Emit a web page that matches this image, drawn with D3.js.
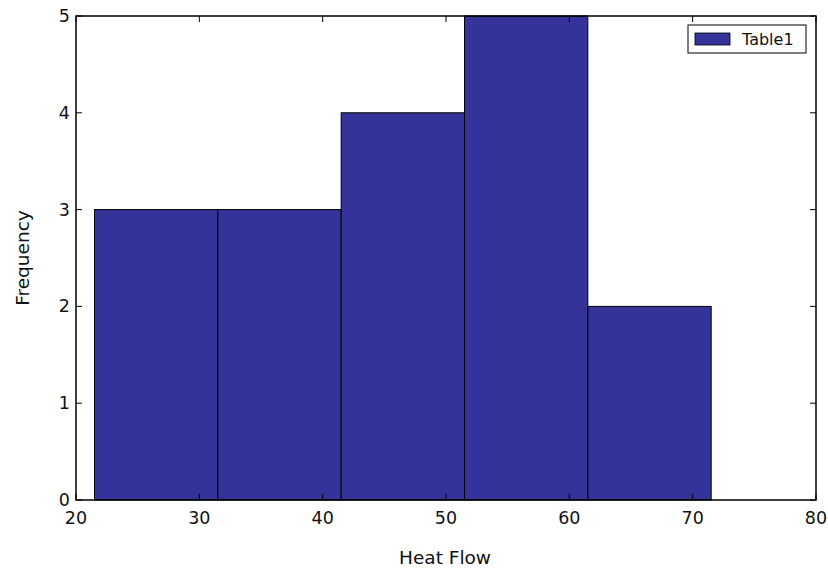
<!DOCTYPE html>
<html>
<head>
<meta charset="utf-8">
<script src="https://cdn.jsdelivr.net/npm/d3@7"></script>
<style>
body { margin: 0; background: #fff; }
text { font-family: "DejaVu Sans", sans-serif; fill: #111; }
</style>
</head>
<body>
<svg id="chart" width="828" height="569"></svg>
<script>
// histogram bins (edges) and counts
var bin_edges = [21.5, 31.5, 41.5, 51.5, 61.5, 71.5];
var counts = [3, 3, 4, 5, 2];
var x_ticks = [20, 30, 40, 50, 60, 70, 80];
var y_ticks = [0, 1, 2, 3, 4, 5];
var series_name = "Table1";

var svg = d3.select("#chart");
// note: "top" is taken by window.top, so use plot_* names
var plot_l = 76, plot_r = 816, plot_t = 16, plot_b = 500;

var x = d3.scaleLinear().domain([20, 80]).range([plot_l, plot_r]);
var y = d3.scaleLinear().domain([0, 5]).range([plot_b, plot_t]);

var bins = counts.map(function(c, i) { return {x0: bin_edges[i], x1: bin_edges[i+1], n: c}; });

svg.selectAll("rect.bar").data(bins).enter().append("rect")
	.attr("class", "bar")
	.attr("x", function(d) { return x(d.x0); })
	.attr("width", function(d) { return x(d.x1) - x(d.x0); })
	.attr("y", function(d) { return y(d.n); })
	.attr("height", function(d) { return y(0) - y(d.n); })
	.attr("fill", "#333399")
	.attr("stroke", "#000")
	.attr("stroke-width", 1);

// ticks inside, on all four sides
var g = svg.append("g");
x_ticks.forEach(function(t) {
	g.append("line").attr("x1", x(t)).attr("x2", x(t)).attr("y1", plot_b).attr("y2", plot_b - 6).attr("stroke", "#000");
	g.append("line").attr("x1", x(t)).attr("x2", x(t)).attr("y1", plot_t).attr("y2", plot_t + 6).attr("stroke", "#000");
	g.append("text").attr("x", x(t)).attr("y", plot_b + 24).attr("text-anchor", "middle").attr("font-size", 17.5).text(t);
});
y_ticks.forEach(function(t) {
	g.append("line").attr("x1", plot_l).attr("x2", plot_l + 6).attr("y1", y(t)).attr("y2", y(t)).attr("stroke", "#000");
	g.append("line").attr("x1", plot_r).attr("x2", plot_r - 6).attr("y1", y(t)).attr("y2", y(t)).attr("stroke", "#000");
	g.append("text").attr("x", plot_l - 6).attr("y", y(t) + 6).attr("text-anchor", "end").attr("font-size", 17.5).text(t);
});

svg.append("rect")
	.attr("x", plot_l).attr("y", plot_t)
	.attr("width", plot_r - plot_l).attr("height", plot_b - plot_t)
	.attr("fill", "none").attr("stroke", "#000").attr("stroke-width", 1.5);

svg.append("text").attr("x", (plot_l + plot_r) / 2 - 1).attr("y", 564)
	.attr("text-anchor", "middle").attr("font-size", 18.5).text("Heat Flow");
svg.append("text").attr("transform", "translate(29," + ((plot_t + plot_b) / 2) + ") rotate(-90)")
	.attr("text-anchor", "middle").attr("font-size", 18.5).text("Frequency");

// legend
var leg = svg.append("g");
leg.append("rect").attr("x", 688).attr("y", 25).attr("width", 118).attr("height", 28)
	.attr("fill", "#fff").attr("stroke", "#000");
leg.append("rect").attr("x", 695).attr("y", 33).attr("width", 35).attr("height", 12)
	.attr("fill", "#333399").attr("stroke", "#000").attr("stroke-width", 0.8);
leg.append("text").attr("x", 742).attr("y", 45).attr("font-size", 16).text(series_name);
</script>
</body>
</html>
